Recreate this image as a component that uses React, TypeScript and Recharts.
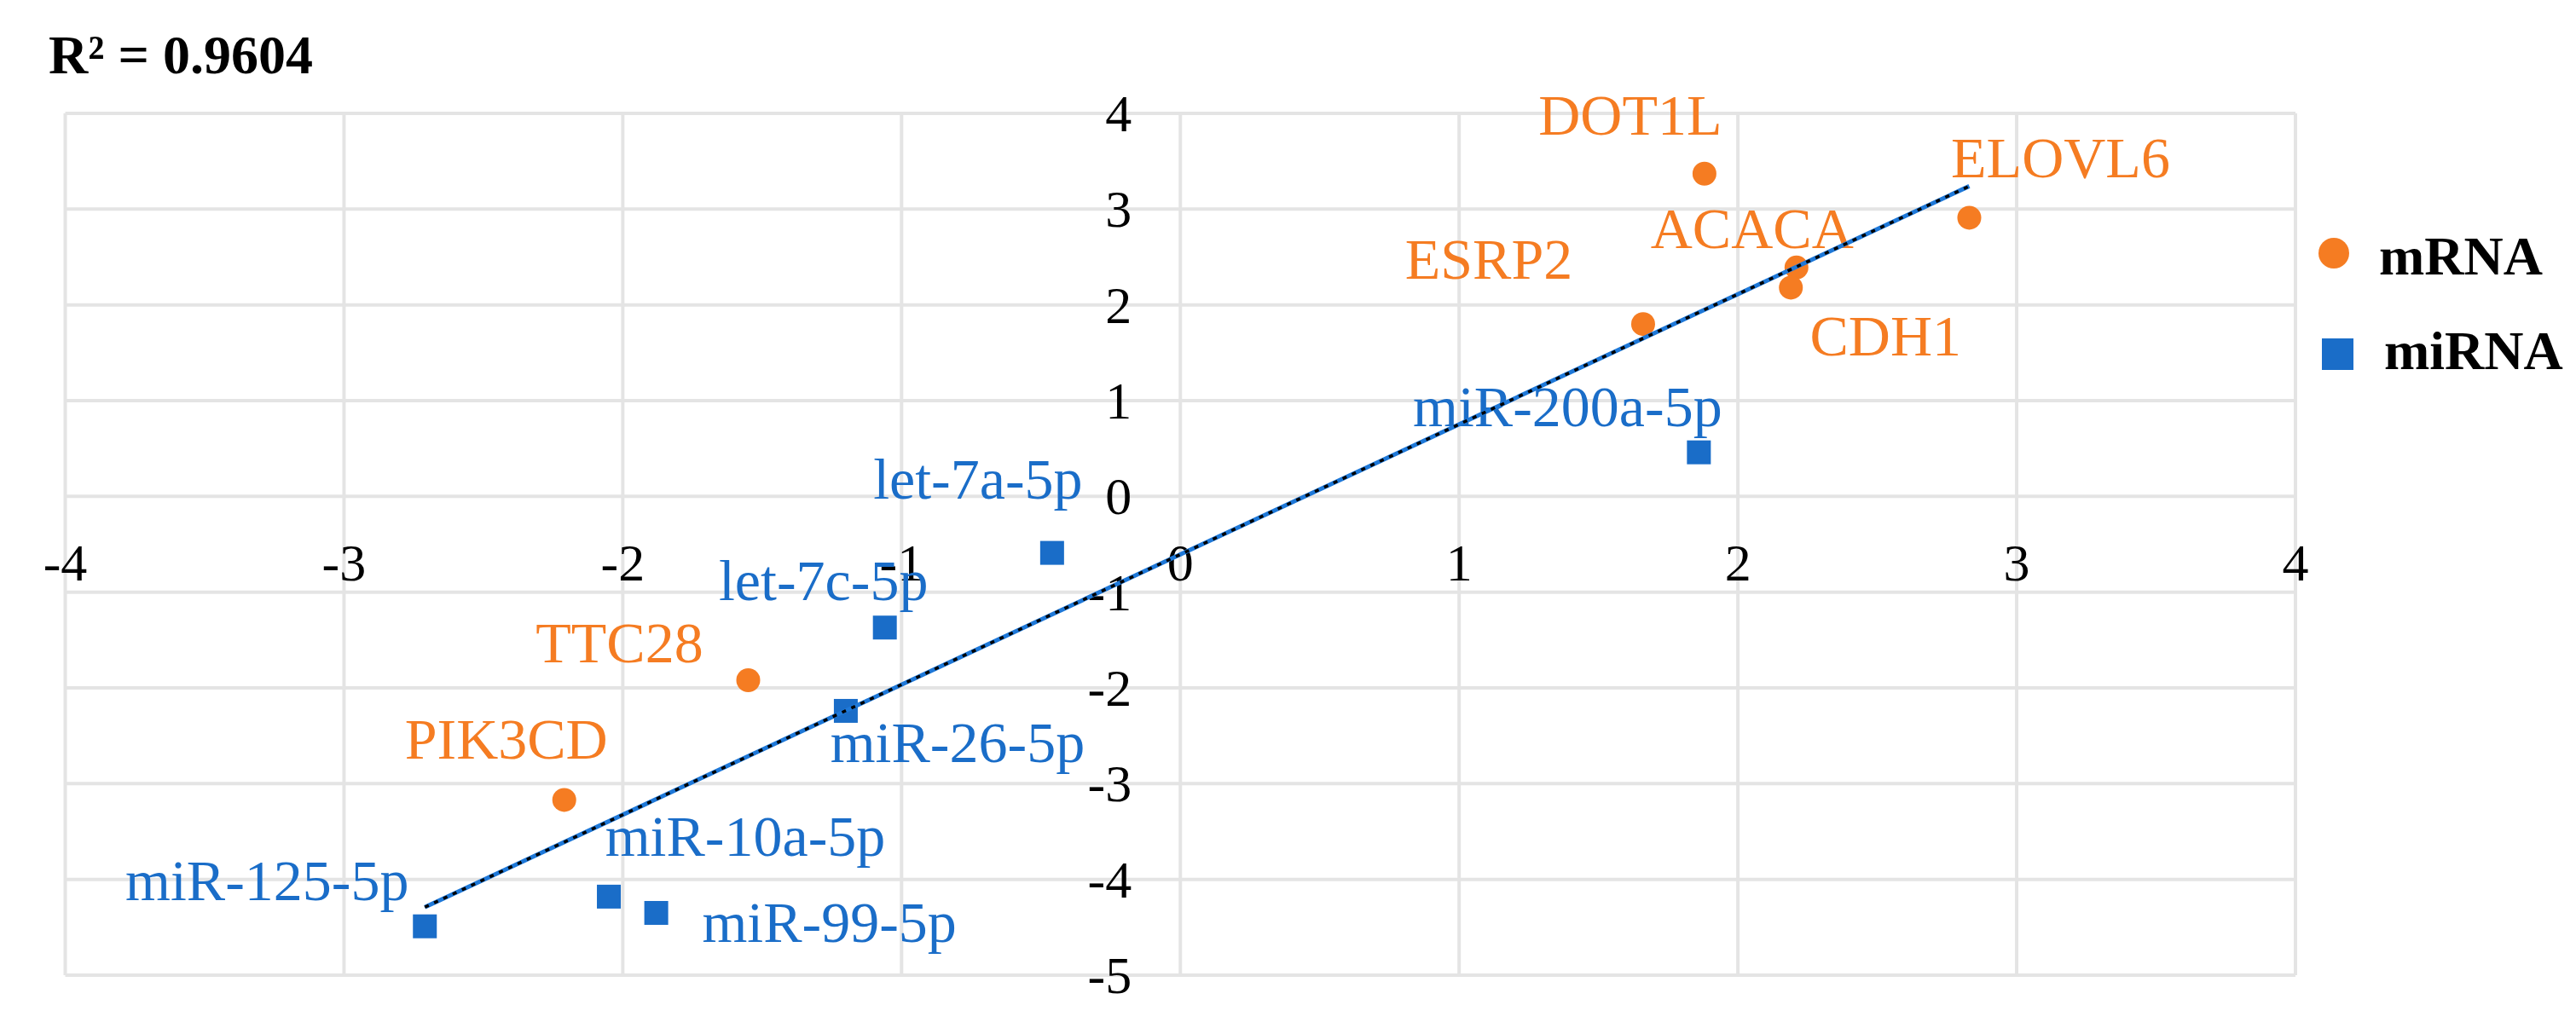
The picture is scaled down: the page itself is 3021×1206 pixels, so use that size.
import React from 'react';
import {
  ScatterChart,
  Scatter,
  XAxis,
  YAxis,
  CartesianGrid,
  ReferenceDot,
  Legend,
} from 'recharts';

// ---- data ----
const mrnaNames = ['DOT1L', 'ELOVL6', 'ACACA', 'CDH1', 'ESRP2', 'TTC28', 'PIK3CD'];
const mrnaX = [1.88, 2.83, 2.21, 2.19, 1.66, -1.55, -2.21];
const mrnaY = [3.37, 2.91, 2.39, 2.18, 1.8, -1.92, -3.17];

const mirnaNames = ['miR-200a-5p', 'let-7a-5p', 'let-7c-5p', 'miR-26-5p', 'miR-10a-5p', 'miR-99-5p', 'miR-125-5p'];
const mirnaX = [1.86, -0.46, -1.06, -1.2, -2.05, -1.88, -2.71];
const mirnaY = [0.46, -0.59, -1.37, -2.24, -4.18, -4.35, -4.49];

const trendX = [-2.71, 2.83];
const trendY = [-4.29, 3.24];

const xTicks = [-4, -3, -2, -1, 0, 1, 2, 3, 4];
const yTicks = [-5, -4, -3, -2, -1, 0, 1, 2, 3, 4];

const rSquaredText = 'R² = 0.9604';

// ---- styling ----
const ORANGE = '#F57C22';
const BLUE = '#1A6DC8';
const FONT = '"Liberation Serif", "Times New Roman", serif';

// label placement (text centre dx, baseline dy) relative to each marker
const labelOffset: Record<string, [number, number]> = {
  DOT1L: [-87, -46],
  ELOVL6: [107, -47],
  ACACA: [-52, -23],
  CDH1: [111, 80],
  ESRP2: [-181, -53],
  TTC28: [-151, -21],
  PIK3CD: [-68, -48],
  'miR-200a-5p': [-154, -31],
  'let-7a-5p': [-87, -64],
  'let-7c-5p': [-72, -32],
  'miR-26-5p': [131, 60],
  'miR-10a-5p': [160, -48],
  'miR-99-5p': [203, 34],
  'miR-125-5p': [-185, -31],
};

const mrnaData = mrnaNames.map((n, i) => ({ name: n, x: mrnaX[i], y: mrnaY[i] }));
const mirnaData = mirnaNames.map((n, i) => ({ name: n, x: mirnaX[i], y: mirnaY[i] }));
const trendData = trendX.map((x, i) => ({ x, y: trendY[i] }));

const LABEL_SIZE = 68;

const MrnaShape = (props: any) => {
  const { cx, cy, payload } = props;
  const off = labelOffset[payload.name] || [0, -30];
  return (
    <g>
      <circle cx={cx} cy={cy} r={14} fill={ORANGE} />
      <text
        x={cx + off[0]}
        y={cy + off[1]}
        textAnchor="middle"
        fill={ORANGE}
        fontFamily={FONT}
        fontSize={LABEL_SIZE}
      >
        {payload.name}
      </text>
    </g>
  );
};

const MirnaShape = (props: any) => {
  const { cx, cy, payload } = props;
  const off = labelOffset[payload.name] || [0, -30];
  return (
    <g>
      <rect x={cx - 14} y={cy - 14} width={28} height={28} fill={BLUE} />
      <text
        x={cx + off[0]}
        y={cy + off[1]}
        textAnchor="middle"
        fill={BLUE}
        fontFamily={FONT}
        fontSize={LABEL_SIZE}
      >
        {payload.name}
      </text>
    </g>
  );
};

const NoShape = () => <g />;

const renderLegend = (props: any) => {
  const items = (props.payload || []).filter((p: any) => p.value === 'mRNA' || p.value === 'miRNA');
  return (
    <svg width={321} height={230} style={{ overflow: 'visible' }}>
      {items.map((p: any) => {
        const isM = p.value === 'mRNA';
        const cy = isM ? 47 : 165;
        return (
          <g key={p.value}>
            {isM ? (
              <circle cx={37} cy={cy} r={18} fill={ORANGE} />
            ) : (
              <rect x={23} y={cy - 18} width={37} height={37} fill={BLUE} />
            )}
            <text
              x={isM ? 90 : 96}
              y={cy + (isM ? 25 : 18)}
              fontFamily={FONT}
              fontWeight="bold"
              fontSize={64}
              fill="#000"
            >
              {p.value}
            </text>
          </g>
        );
      })}
    </svg>
  );
};

const XTickLabel = (v: number) => (p: any) => (
  <text x={p.cx} y={p.cy + 99} textAnchor="middle" fontFamily={FONT} fontSize={62} fill="#000">
    {v}
  </text>
);

const YTickLabel = (v: number) => (p: any) => (
  <text x={p.cx - 57} y={p.cy + 21} textAnchor="end" fontFamily={FONT} fontSize={62} fill="#000">
    {v}
  </text>
);

export default function App() {
  return (
    <div
      style={{
        position: 'absolute',
        left: 0,
        top: 0,
        width: 3021,
        height: 1206,
        background: '#fff',
        overflow: 'hidden',
      }}
    >
      <ScatterChart
        width={3021}
        height={1206}
        margin={{ top: 133, right: 329, bottom: 62, left: 76.5 }}
      >
        <CartesianGrid stroke="#e4e4e4" strokeWidth={4} />
        <XAxis type="number" dataKey="x" domain={[-4, 4]} ticks={xTicks} hide />
        <YAxis type="number" dataKey="y" domain={[-5, 4]} ticks={yTicks} hide />
        {xTicks.map((v) => (
          <ReferenceDot key={'xt' + v} x={v} y={0} r={0} shape={XTickLabel(v)} />
        ))}
        {yTicks.map((v) => (
          <ReferenceDot key={'yt' + v} x={0} y={v} r={0} shape={YTickLabel(v)} />
        ))}
        <Scatter name="mRNA" data={mrnaData} fill={ORANGE} shape={MrnaShape} isAnimationActive={false} />
        <Scatter name="miRNA" data={mirnaData} fill={BLUE} shape={MirnaShape} isAnimationActive={false} />
        <Scatter
          name="trend-base"
          data={trendData}
          line={{ stroke: '#1E78D8', strokeWidth: 5 }}
          lineType="joint"
          shape={NoShape}
          legendType="none"
          isAnimationActive={false}
        />
        <Scatter
          name="trend-dash"
          data={trendData}
          line={{ stroke: '#000', strokeWidth: 3.5, strokeDasharray: '5 7' }}
          lineType="joint"
          shape={NoShape}
          legendType="none"
          isAnimationActive={false}
        />
        <Legend
          layout="horizontal"
          verticalAlign="middle"
          align="center"
          content={renderLegend}
          wrapperStyle={{ left: 2700, top: 250, width: 321, height: 230 }}
        />
      </ScatterChart>
      <svg
        width={3021}
        height={1206}
        style={{ position: 'absolute', left: 0, top: 0, pointerEvents: 'none' }}
      >
        <text x={57} y={86} fontFamily={FONT} fontWeight="bold" fontSize={64} fill="#000">
          {rSquaredText}
        </text>
      </svg>
    </div>
  );
}
